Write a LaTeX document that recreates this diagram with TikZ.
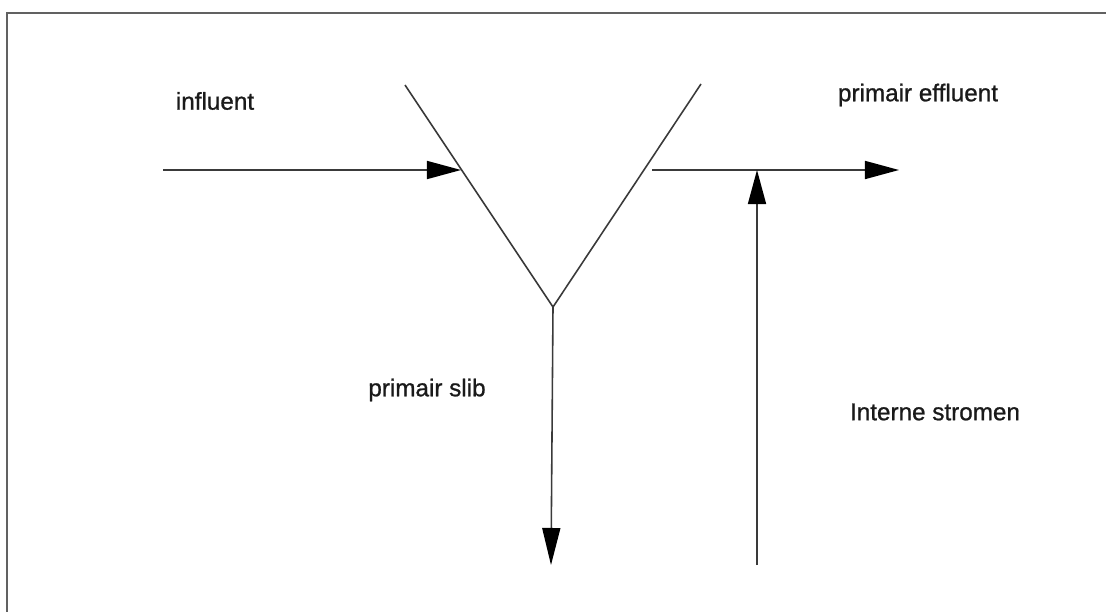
\documentclass[tikz,border=0pt]{standalone}
\usepackage{fontspec}
\setmainfont{Liberation Sans}[BoldFont={Liberation Sans},BoldFeatures={FakeBold=0.9}]
\usetikzlibrary{arrows.meta}
\definecolor{ScanInk}{HTML}{3A3A3A}
\definecolor{LabelInk}{HTML}{1A1A1A}

\begin{document}
\begin{tikzpicture}[
  x=.01cm,y=-.01cm,
  every node/.style={font=\fontsize{6.9pt}{8pt}\selectfont\bfseries,text=LabelInk,inner sep=0pt},
  frameline/.style={draw=ScanInk!80,line width=.6pt},
  wall/.style={draw=ScanInk,line width=.45pt},
  flow/.style={draw=ScanInk,line width=.45pt,
    -{Triangle[length=3.4mm,width=1.8mm,fill=black,color=black]}},
  sludge/.style={flow,-{Triangle[length=3.7mm,width=1.8mm,fill=black,color=black]}}
]
\useasboundingbox (0,0) rectangle (1106,612);
% Open frame: top and left edge only, as in the scan.
\draw[frameline] (1106,13)--(7,13)--(7,612);
% Settling tank drawn as a V.
\coordinate (vLeft) at (405,85);
\coordinate (vRight) at (701,84);
\coordinate (vBot) at (553,307);
\draw[wall] (vLeft)--(vBot)--(vRight);
% Flows in and out.
\coordinate (inStart) at (163,170);
\coordinate (inEnd) at (461,170);
\coordinate (effStart) at (652,170);
\coordinate (effEnd) at (899,170);
\coordinate (slibEnd) at (551,565);
\coordinate (retStart) at (757,565);
\coordinate (retEnd) at (757,170);
\draw[flow] (inStart)--(inEnd);
\draw[flow] (effStart)--(effEnd);
\draw[sludge] (vBot)--(slibEnd);
\draw[flow] (retStart)--(retEnd);
% Labels.
\node (influent) at (215,101) {influent};
\node (effluent) at (918,95) {primair effluent};
\node (slib) at (427,390) {primair slib};
\node (intern) at (935,412) {Interne stromen};
\end{tikzpicture}
\end{document}
